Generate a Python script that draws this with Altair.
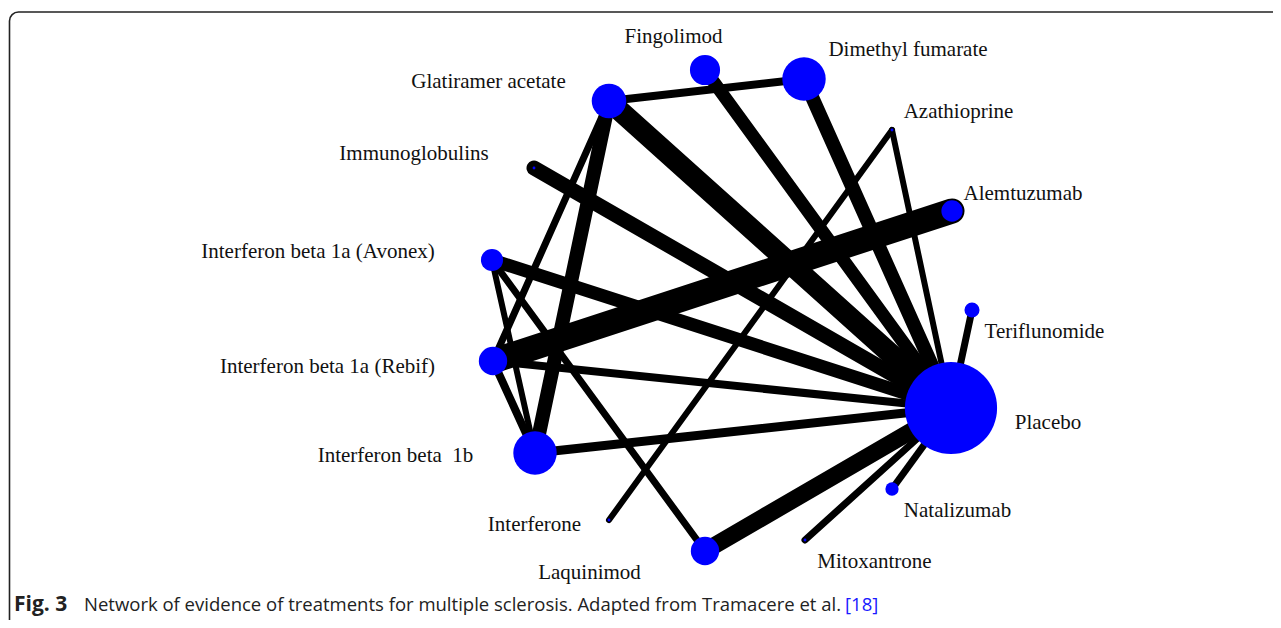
import math
import altair as alt
import pandas as pd

# ---- data (pixel layout of the network) ----
node_names = ["Fingolimod", "Dimethyl fumarate", "Glatiramer acetate", "Azathioprine",
              "Immunoglobulins", "Alemtuzumab", "Interferon beta 1a (Avonex)", "Teriflunomide",
              "Interferon beta 1a (Rebif)", "Placebo", "Interferon beta\u00a0 1b", "Natalizumab",
              "Interferone", "Mitoxantrone", "Laquinimod"]
node_x = [705, 804, 609, 892, 534, 952, 492, 972, 493, 951, 535, 892, 609, 805, 705]
node_y = [70, 79, 101, 130, 168, 211, 260, 310, 361, 408, 453, 489, 520, 540, 551]
node_r = [17, 24.5, 19.5, 1.6, 1.6, 12, 12.5, 8.5, 16, 52, 24.5, 7.5, 1.6, 1.6, 16]
label_x = [673.5, 908, 488.5, 958.5, 414, 1023, 318, 1044.5, 327.5, 1048, 395.5, 957.5, 534.5, 874.5, 589.5]
label_y = [43, 56, 88, 118, 160, 200, 258, 338, 373, 429, 462, 517, 531, 568, 579]

edge_from = ["Glatiramer acetate", "Glatiramer acetate", "Fingolimod", "Dimethyl fumarate",
             "Azathioprine", "Azathioprine", "Immunoglobulins", "Alemtuzumab",
             "Interferon beta 1a (Avonex)", "Teriflunomide", "Interferon beta 1a (Rebif)",
             "Interferon beta\u00a0 1b", "Natalizumab", "Mitoxantrone", "Laquinimod",
             "Glatiramer acetate", "Glatiramer acetate", "Interferon beta 1a (Avonex)",
             "Interferon beta 1a (Avonex)", "Interferon beta 1a (Rebif)"]
edge_to = ["Dimethyl fumarate", "Placebo", "Placebo", "Placebo",
           "Placebo", "Interferone", "Placebo", "Interferon beta 1a (Rebif)",
           "Placebo", "Placebo", "Placebo",
           "Placebo", "Placebo", "Placebo", "Placebo",
           "Interferon beta\u00a0 1b", "Interferon beta 1a (Rebif)", "Interferon beta\u00a0 1b",
           "Laquinimod", "Interferon beta\u00a0 1b"]
edge_w = [8, 21, 13, 14, 6, 6, 15, 25, 13, 7, 8, 9, 7, 7, 17, 14, 7, 6, 7, 8]

# ---- tables ----
pos = {n: (x, y) for n, x, y in zip(node_names, node_x, node_y)}
edges = pd.DataFrame({
    "x": [pos[a][0] for a in edge_from], "y": [pos[a][1] for a in edge_from],
    "x2": [pos[b][0] for b in edge_to], "y2": [pos[b][1] for b in edge_to],
    "w": edge_w,
})
nodes = pd.DataFrame({"name": node_names, "x": node_x, "y": node_y,
                      "size": [math.pi * r * r for r in node_r]})
labels = pd.DataFrame({"name": node_names, "x": label_x, "y": label_y})

W, H = 1265, 612
xs = alt.Scale(domain=[8, 8 + W], nice=False, zero=False)
ys = alt.Scale(domain=[8 + H, 8], nice=False, zero=False)

edge_layer = alt.Chart(edges).mark_rule(color="black", strokeCap="round").encode(
    x=alt.X("x:Q", scale=xs, axis=None), y=alt.Y("y:Q", scale=ys, axis=None),
    x2="x2:Q", y2="y2:Q",
    strokeWidth=alt.StrokeWidth("w:Q", scale=None),
)
node_layer = alt.Chart(nodes).mark_circle(color="#0000ff", opacity=1).encode(
    x=alt.X("x:Q", scale=xs, axis=None), y=alt.Y("y:Q", scale=ys, axis=None),
    size=alt.Size("size:Q", scale=None),
)
label_layer = alt.Chart(labels).mark_text(
    font="Liberation Serif", fontSize=21, align="center", baseline="alphabetic", color="#111"
).encode(
    x=alt.X("x:Q", scale=xs, axis=None), y=alt.Y("y:Q", scale=ys, axis=None),
    text="name:N",
)

one = pd.DataFrame({"k": [0]})
border = alt.Chart(one).mark_rect(filled=False, stroke="#222", strokeWidth=1.6,
                                  cornerRadius=9, clip=True).encode(
    x=alt.value(1.5), x2=alt.value(1400), y=alt.value(4), y2=alt.value(900)
)
cap_font = "Open Sans"
cap_size = 18.5
cap1 = alt.Chart(one).mark_text(text="Fig. 3", font=cap_font, fontSize=21, fontWeight="bold",
                                align="left", baseline="alphabetic", color="#222").encode(
    x=alt.value(6), y=alt.value(603))
cap2 = alt.Chart(one).mark_text(
    text="Network of evidence of treatments for multiple sclerosis. Adapted from Tramacere et al.",
    font=cap_font, fontSize=cap_size, align="left", baseline="alphabetic", color="#222").encode(
    x=alt.value(76), y=alt.value(603))
cap3 = alt.Chart(one).mark_text(text="[18]", font=cap_font, fontSize=cap_size, align="left",
                                baseline="alphabetic", color="#1a1aff").encode(
    x=alt.value(837), y=alt.value(603))

chart = alt.layer(border, edge_layer, node_layer, label_layer, cap1, cap2, cap3).properties(
    width=W, height=H, padding=0, autosize=alt.AutoSizeParams(type="none")
).configure_view(strokeWidth=0)

chart.save("out.html", embed_options={"renderer": "svg", "actions": False})
